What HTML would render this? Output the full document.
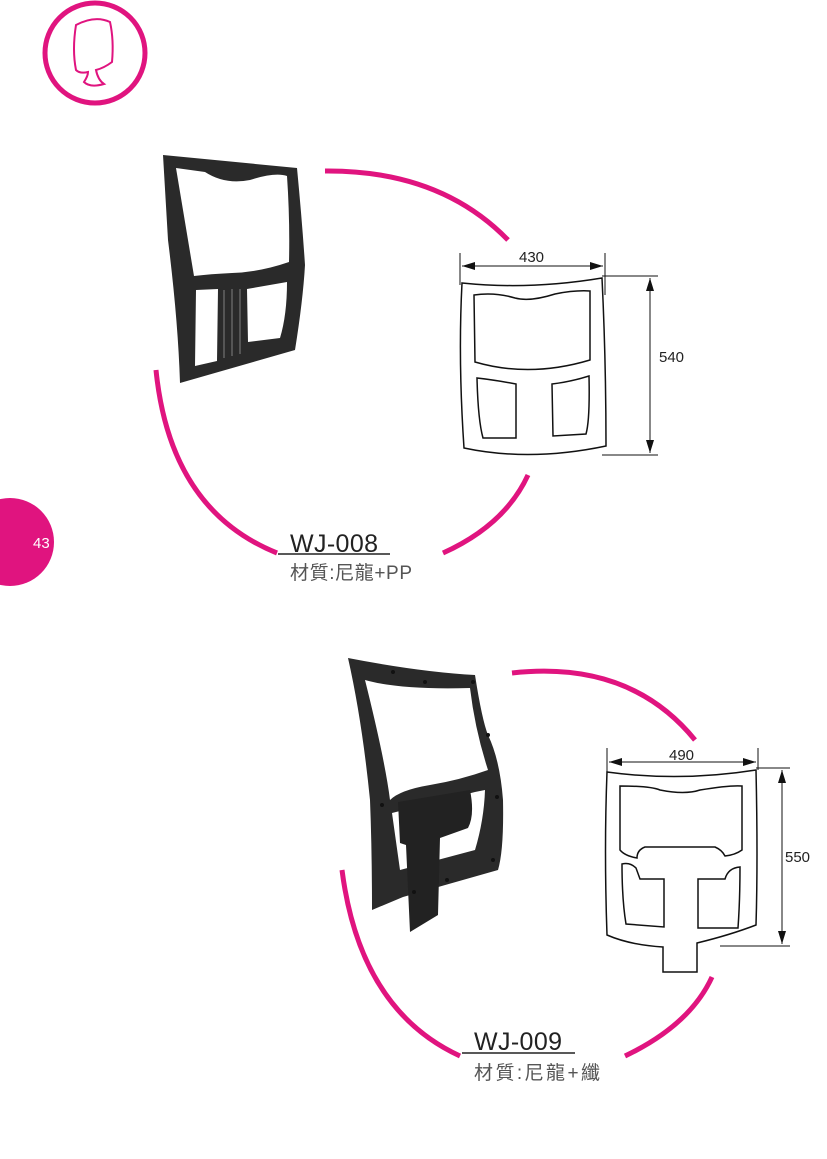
<!DOCTYPE html>
<html><head><meta charset="utf-8"><style>
html,body{margin:0;padding:0;background:#fff}
svg{display:block}
text{font-family:"Liberation Sans","Noto Sans CJK TC",sans-serif}
</style></head><body>
<svg width="827" height="1159" viewBox="0 0 827 1159" xmlns="http://www.w3.org/2000/svg">
<circle cx="95" cy="53" r="50" fill="none" stroke="#e0147f" stroke-width="5"/>
<path d="M76 25 Q95 15 110 22 Q114 40 112 62 Q104 68 96 70 Q98 80 104 84 Q90 88 84 82 Q88 76 88 72 Q80 74 76 70 Q72 50 76 25Z" fill="none" stroke="#e0147f" stroke-width="2"/>
<circle cx="10" cy="542" r="44" fill="#e0147f"/>
<text x="33" y="548" font-size="15" fill="#fff">43</text>

<g fill="none" stroke="#e0147f" stroke-width="5">
<path d="M325 171 Q440 170 508 240"/>
<path d="M156 370 Q170 510 277 553"/>
<path d="M443 553 Q505 525 528 475"/>
</g>
<path fill-rule="evenodd" fill="#2a2a2a" d="M163 155 L297 168 Q302 220 305 265 Q303 300 295 350 L180 383 Q178 320 168 240 Z
M176 168 L205 172 Q225 185 250 180 Q275 172 287 176 Q290 220 289 262 Q260 272 232 273 Q210 274 194 276 Z
M196 290 L218 289 L217 361 L195 366 Z
M247 289 L287 282 Q287 315 280 338 L248 342 Z"/>
<path d="M224 290 L224 358 M232 289 L232 356 M240 289 L240 354" stroke="#555" stroke-width="2"/>
<g fill="none" stroke="#111" stroke-width="1.5">
<path d="M462 283 Q530 290 602 278 Q606 360 606 446 Q530 462 464 448 Q458 360 462 283Z"/>
<path d="M474 295 Q495 292 515 298 Q530 302 555 294 Q575 290 590 291 L590 360 Q530 378 475 362Z"/>
<path d="M477 378 Q495 380 516 384 L516 438 L483 438 Q478 420 477 378Z"/>
<path d="M552 384 Q570 382 589 376 Q590 420 586 434 L553 436Z"/>
</g>
<g stroke="#111" stroke-width="1">
<line x1="460" y1="253" x2="460" y2="285"/><line x1="605" y1="253" x2="605" y2="295"/>
<line x1="462" y1="266" x2="603" y2="266"/>
<line x1="602" y1="276" x2="658" y2="276"/><line x1="602" y1="455" x2="658" y2="455"/>
<line x1="650" y1="278" x2="650" y2="453"/>
</g>
<g fill="#111">
<path d="M462 266 L475 262 L475 270Z"/><path d="M603 266 L590 262 L590 270Z"/>
<path d="M650 278 L646 291 L654 291Z"/><path d="M650 453 L646 440 L654 440Z"/>
</g>
<text x="519" y="262" font-size="15" fill="#222">430</text>
<text x="659" y="362" font-size="15" fill="#222">540</text>
<text x="290" y="552" font-size="25" fill="#222" textLength="88">WJ-008</text>
<line x1="278" y1="554" x2="390" y2="554" stroke="#222" stroke-width="1.5"/>
<text x="290" y="579" font-size="19" fill="#555" textLength="122">材質:尼龍+PP</text>

<g fill="none" stroke="#e0147f" stroke-width="5">
<path d="M512 673 Q630 660 695 740"/>
<path d="M342 870 Q360 1010 460 1056"/>
<path d="M625 1056 Q690 1025 712 977"/>
</g>
<path fill-rule="evenodd" fill="#2a2a2a" d="M348 658 Q420 672 475 675 Q482 720 488 735 Q500 760 503 800 Q504 850 498 870 L403 897 L372 910 Q372 850 370 800 Q362 720 348 658Z
M365 680 Q400 690 470 688 Q475 730 488 770 Q460 780 430 785 Q400 790 390 800 Q385 760 365 680Z
M392 813 L400 870 L475 850 Q484 820 485 790 L475 792 Z"/>
<path fill="#222" d="M398 802 L470 790 Q475 815 468 828 L440 838 L438 915 L410 932 L406 845 L400 843Z"/>
<g fill="#111">
<circle cx="393" cy="672" r="2"/><circle cx="425" cy="682" r="2"/><circle cx="473" cy="682" r="2"/><circle cx="488" cy="735" r="2"/><circle cx="497" cy="797" r="2"/><circle cx="493" cy="860" r="2"/><circle cx="447" cy="880" r="2"/><circle cx="414" cy="892" r="2"/><circle cx="382" cy="805" r="2"/>
</g>
<g fill="none" stroke="#111" stroke-width="1.5">
<path d="M607 772 Q680 782 756 770 Q758 860 756 925 Q730 935 697 943 L697 972 L663 972 L663 947 Q630 945 607 935 Q604 850 607 772Z"/>
<path d="M620 786 Q650 786 660 790 Q685 795 700 790 Q730 785 742 786 L742 850 Q735 855 725 856 Q722 850 715 847 L645 847 Q637 850 637 858 Q625 856 620 850Z"/>
<path d="M622 864 Q630 862 636 868 L640 879 L664 879 L664 927 L626 924 Q622 900 622 864Z"/>
<path d="M698 879 L725 879 Q728 868 740 867 Q740 900 738 928 L698 928Z"/>
</g>
<g stroke="#111" stroke-width="1">
<line x1="607" y1="748" x2="607" y2="772"/><line x1="758" y1="748" x2="758" y2="770"/>
<line x1="609" y1="762" x2="756" y2="762"/>
<line x1="756" y1="768" x2="790" y2="768"/><line x1="720" y1="946" x2="790" y2="946"/>
<line x1="782" y1="770" x2="782" y2="944"/>
</g>
<g fill="#111">
<path d="M609 762 L622 758 L622 766Z"/><path d="M756 762 L743 758 L743 766Z"/>
<path d="M782 770 L778 783 L786 783Z"/><path d="M782 944 L778 931 L786 931Z"/>
</g>
<text x="669" y="760" font-size="15" fill="#222">490</text>
<text x="785" y="862" font-size="15" fill="#222">550</text>
<text x="474" y="1050" font-size="25" fill="#222" textLength="88">WJ-009</text>
<line x1="462" y1="1053" x2="575" y2="1053" stroke="#222" stroke-width="1.5"/>
<text x="474" y="1079" font-size="19" fill="#555" textLength="126">材質:尼龍+纖</text>
</svg>
</body></html>
